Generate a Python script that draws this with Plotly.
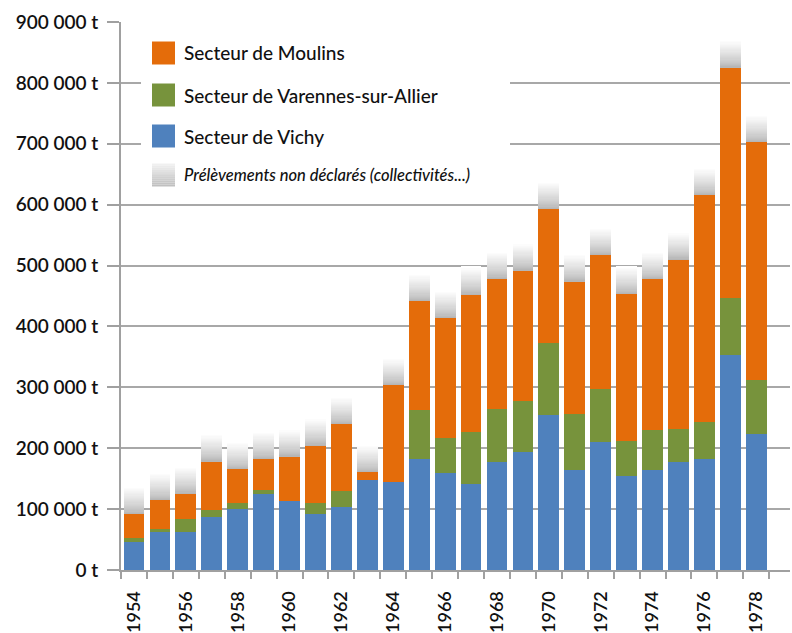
import plotly.graph_objects as go

# ---- data (tonnes) ----
years = list(range(1954, 1979))
vichy = [45500, 62000, 63000, 87500, 101000, 125000, 113000, 92000, 104000, 148000,
         144000, 182000, 159000, 141000, 178000, 194000, 254500, 164000, 210000, 155000,
         164000, 177000, 182000, 353000, 224000]
varennes = [6500, 5000, 20000, 11000, 9500, 6000, 0, 18500, 26000, 0,
            0, 81000, 58000, 86000, 86000, 83500, 117500, 93000, 87000, 57000,
            66000, 54500, 60500, 94000, 87500]
moulins = [41000, 48000, 43000, 80500, 55500, 52000, 74000, 94500, 110000, 13000,
           160000, 179000, 198000, 226000, 215000, 215000, 222000, 217500, 221000, 242000,
           248000, 279000, 373500, 379000, 391500]
non_declares = [45000] * 25

series_names = ["Secteur de Moulins", "Secteur de Varennes-sur-Allier", "Secteur de Vichy",
                "Prélèvements non déclarés (collectivités...)"]
y_ticks = list(range(0, 900001, 100000))
y_ticktext = ["0 t"] + [f"{v // 1000} 000 t" for v in y_ticks[1:]]
x_tickvals = years[::2]

# ---- style ----
C_ORANGE = "#E46C0A"
C_GREEN = "#77933C"
C_BLUE = "#4F81BD"
FONT = "Lato"
TXT = "#111111"
AXC = "#a0a0a0"

fig = go.Figure()
fig.add_trace(go.Bar(x=years, y=vichy, name=series_names[2], marker=dict(color=C_BLUE, line_width=0), showlegend=False))
fig.add_trace(go.Bar(x=years, y=varennes, name=series_names[1], marker=dict(color=C_GREEN, line_width=0), showlegend=False))
fig.add_trace(go.Bar(x=years, y=moulins, name=series_names[0], marker=dict(color=C_ORANGE, line_width=0), showlegend=False))

# gray "non déclarés" segment drawn as a vertical gradient of thin slices
N = 24
def gray(i, n, lo=182, hi=255):
    t = i / (n - 1)
    v = int(lo + (hi - lo) * t ** 0.8)
    return f"rgb({v},{v},{v})"

for i in range(N):
    fig.add_trace(go.Bar(x=years, y=[v / N for v in non_declares], name=series_names[3],
                         marker=dict(color=gray(i, N), line_width=0), showlegend=False,
                         hoverinfo="skip"))

# ---- manual legend (layout decoration) ----
L, R, T, B = 121, 790, 22, 570
def px(x):
    return (x - L) / (R - L)
def py(y):
    return (B - y) / (B - T)

shapes = [dict(type="rect", xref="paper", yref="paper", x0=px(141), x1=px(510), y0=py(197), y1=py(30),
               fillcolor="white", line_width=0, layer="above")]
annotations = []
centers = [53, 95, 136, 175]
colors = [C_ORANGE, C_GREEN, C_BLUE, None]
for name, cy, col in zip(series_names, centers, colors):
    if col is not None:
        shapes.append(dict(type="rect", xref="paper", yref="paper", x0=px(152), x1=px(175),
                           y0=py(cy + 11.5), y1=py(cy - 11.5), fillcolor=col, line_width=0, layer="above"))
        text = name
    else:
        M = 12
        for k in range(M):
            yt = cy - 11.5 + 23 * k / M
            yb = cy - 11.5 + 23 * (k + 1) / M
            v = int(240 - (240 - 192) * k / (M - 1))
            shapes.append(dict(type="rect", xref="paper", yref="paper", x0=px(152), x1=px(175),
                               y0=py(yb), y1=py(yt), fillcolor=f"rgb({v},{v},{v})", line_width=0,
                               layer="above"))
        text = "<i>" + name + "</i>"
    annotations.append(dict(xref="paper", yref="paper", x=px(182), y=py(cy), text=text,
                            showarrow=False, xanchor="left", yanchor="middle",
                            font=dict(family=FONT, size=19 if col else 16.5, color=TXT, weight=500)))

fig.update_layout(
    width=792, height=633,
    margin=dict(l=L, r=792 - R, t=T, b=633 - B),
    paper_bgcolor="white", plot_bgcolor="white",
    barmode="stack", bargap=0.2,
    showlegend=False,
    shapes=shapes, annotations=annotations,
    font=dict(family=FONT, color=TXT),
    xaxis=dict(range=[1953.5, 1979.3], tickmode="array", tickvals=x_tickvals,
               ticktext=[str(v) for v in x_tickvals], tickangle=-90, ticks="",
               ticklabelstandoff=12, automargin=False,
               minor=dict(ticks="outside", tickmode="linear", tick0=1953.5, dtick=1,
                          ticklen=7, tickwidth=2, tickcolor=AXC, showgrid=False),
               showline=True, linecolor=AXC, linewidth=2, showgrid=False, zeroline=False,
               tickfont=dict(family=FONT, size=18, color=TXT, weight=600)),
    yaxis=dict(range=[0, 900000], tickmode="array", tickvals=y_ticks, ticktext=y_ticktext,
               ticks="outside", ticklen=12, tickwidth=2, tickcolor=AXC,
               ticklabelstandoff=5, automargin=False,
               showgrid=True, gridcolor="#a8a8a8", gridwidth=2,
               showline=True, linecolor=AXC, linewidth=2, zeroline=False,
               tickfont=dict(family=FONT, size=19, color=TXT, weight=600)),
)

fig.write_html("out.html", config={"displayModeBar": False},
               post_script="document.body.style.margin='0';document.body.style.overflow='hidden';")
